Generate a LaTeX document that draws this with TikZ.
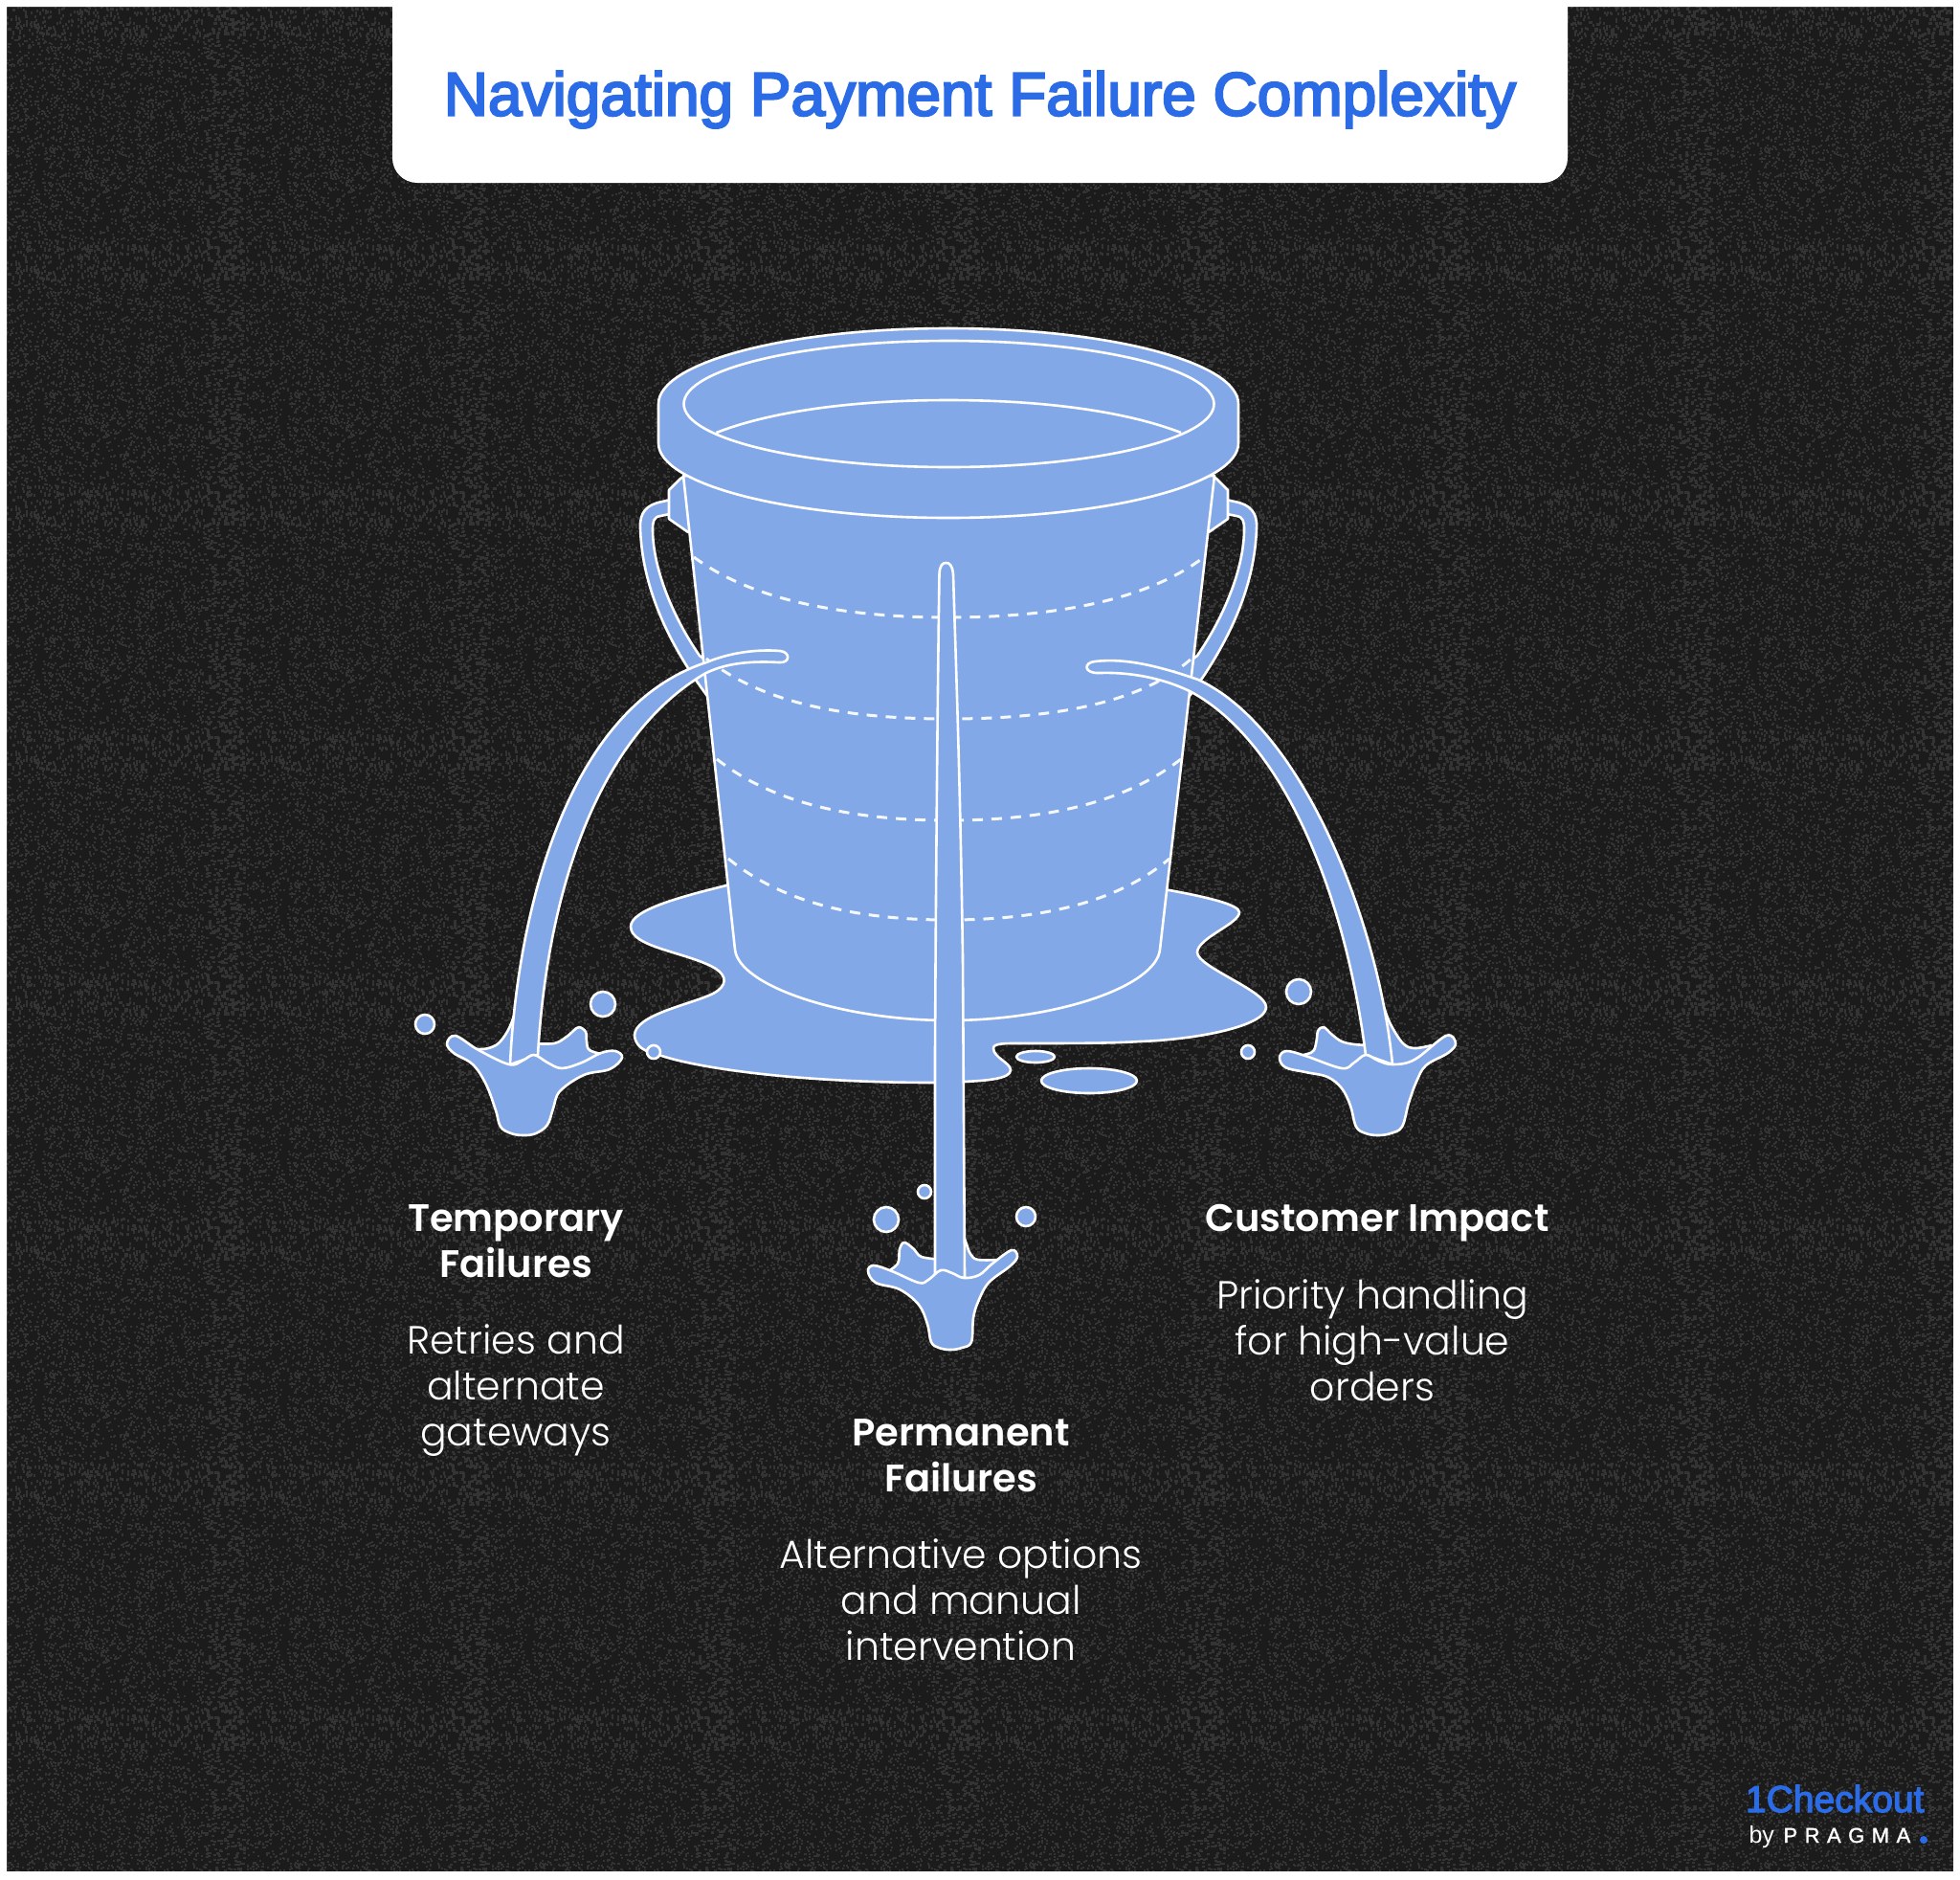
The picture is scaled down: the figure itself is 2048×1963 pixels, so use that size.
\documentclass[tikz,border=0pt]{standalone}
\usepackage{fontspec}
\setmainfont{Poppins Light}
\newfontfamily\headfont{Poppins SemiBold}
\newfontfamily\titlefont[FakeBold=3.6]{Liberation Sans}
\newfontfamily\logofont[FakeBold=3.2]{Liberation Sans}
\newfontfamily\brandfont[FakeBold=1.5]{Liberation Sans}
\newfontfamily\plainfont{Liberation Sans}
\definecolor{bgdark}{HTML}{1B1B1B}
\definecolor{water}{HTML}{82A8E8}
\definecolor{brand}{HTML}{2B6CE6}
\pgfmathsetseed{4242}
\newcount\speckn
\newcommand\speckdefs{%
  \special{pdf:bxobj @tile bbox 0 0 256 256}%
  \special{pdf:code q 1 0 0 1 -72 72 cm 0.205 g}%
  \speckn=0
  \loop\ifnum\speckn<3800
    \advance\speckn by 1
    \pgfmathrandominteger{\ax}{0}{253}%
    \pgfmathrandominteger{\ay}{0}{253}%
    \special{pdf:code \ax\space\ay\space 2.2 2.2 re f}%
  \repeat
  \special{pdf:code Q}%
  \special{pdf:exobj}%
}
\tikzset{
  liquid/.style={draw=white,fill=water,line width=2.6pt,line join=round},
  dashring/.style={draw=white!92!water,line width=3pt,dash pattern=on 11pt off 9pt},
  waterline/.style={draw=white,line width=2.6pt},
  heading/.style={text=white,align=center,font=\headfont\fontsize{40}{48}\selectfont},
  body/.style={text=white,align=center,font=\fontsize{41}{48}\selectfont},
  tile/.style={inner sep=0pt,outer sep=0pt,anchor=south west},
}
\begin{document}
\begin{tikzpicture}[x=1pt,y=-1pt]
\useasboundingbox (0,0) rectangle (2048,1963);
\fill[white] (0,0) rectangle (2048,1963);
\fill[bgdark] (7,7) rectangle (2041,1955);
\node[tile] (tiledef) at (0,0) {\speckdefs};
\begin{scope}
 \clip (7,7) rectangle (2041,1955);
 \foreach \tx in {0,256,512,768,1024,1280,1536,1792}
  \foreach \ty in {256,512,768,1024,1280,1536,1792,2048}
   \node[tile] (t\tx-\ty) at (\tx,\ty) {\special{pdf:uxobj @tile}};
\end{scope}
\fill[white,even odd rule] (-2,-2) rectangle (2050,1965) (7,7) rectangle (2041,1955);
% title panel
\fill[white] (410,0) -- (410,165) arc[start angle=180,end angle=90,radius=26] -- (1612,191) arc[start angle=90,end angle=0,radius=26] -- (1638,0) -- cycle;
\node[text=brand,font=\titlefont\fontsize{64}{70}\selectfont] (title) at (1024,104) {Navigating Payment Failure Complexity};
% puddle
\draw[liquid] (759,925) .. controls (715,936) and (659,950) .. (659,968)
 .. controls (659,990) and (720,995) .. (748,1012)
 .. controls (760,1020) and (760,1030) .. (745,1038)
 .. controls (720,1050) and (663,1060) .. (663,1082)
 .. controls (664,1092) and (672,1098) .. (683,1100)
 .. controls (720,1115) and (830,1131) .. (976,1131) -- (1007,1130)
 .. controls (1030,1129) and (1056,1127) .. (1056,1118)
 .. controls (1056,1110) and (1038,1105) .. (1038,1095)
 .. controls (1038,1090) and (1050,1090) .. (1060,1090)
 .. controls (1120,1090) and (1160,1090) .. (1191,1088)
 .. controls (1250,1086) and (1323,1072) .. (1323,1052)
 .. controls (1323,1035) and (1251,1010) .. (1251,995)
 .. controls (1251,980) and (1295,965) .. (1295,953)
 .. controls (1295,945) and (1260,937) .. (1222,930) -- (1000,900) -- cycle;
% handles and lugs
\foreach \sx/\ox in {1/0,-1/1982}{
 \begin{scope}[shift={(\ox,0)},xscale=\sx]
  \draw[liquid] (705,521) -- (692,524) .. controls (676,527) and (668,535) .. (669,552) .. controls (671,610) and (695,670) .. (745,735) -- (745,695) -- (731,685) .. controls (700,640) and (682,590) .. (682,553) .. controls (682,545) and (683,540) .. (690,539) -- (705,536) -- cycle;
  \draw[liquid] (716,497) -- (711,500) -- (699,512) -- (699,542) -- (719,556) -- (740,520) -- cycle;
 \end{scope}
}
% bucket body
\draw[liquid] (714,497) -- (768,992) .. controls (772,1030) and (880,1066) .. (991,1066) .. controls (1105,1066) and (1208,1030) .. (1212,992) -- (1269,497) -- cycle;
% dashed rings
\draw[dashring] (725,582) .. controls (790,630) and (890,645) .. (991,645) .. controls (1092,645) and (1195,630) .. (1258,582);
\draw[dashring] (738,688) .. controls (800,737) and (890,751) .. (991,751) .. controls (1092,751) and (1190,737) .. (1245,688);
\draw[dashring] (749,793) .. controls (810,841) and (895,857) .. (991,857) .. controls (1087,857) and (1172,841) .. (1234,793);
\draw[dashring] (761,897) .. controls (820,945) and (900,961) .. (991,961) .. controls (1082,961) and (1165,945) .. (1222,897);
% rim
\draw[liquid] (688,422) arc[start angle=180,end angle=360,x radius=303,y radius=79] -- (1294,463) arc[start angle=0,end angle=180,x radius=303,y radius=78] -- cycle;
\draw[waterline] (991.5,422) ellipse[x radius=277,y radius=66];
\draw[waterline] (748.5,452) .. controls (810,428) and (900,418) .. (991,418) .. controls (1082,418) and (1172,428) .. (1234,452);
% back of splashes
\draw[liquid] plot[smooth,tension=.6] coordinates {(538,1058) (533,1072) (526,1084) (518,1092) (505,1096) (490,1095)} -- (505,1120) -- (545,1125) -- (542,1100) -- cycle;
\draw[liquid] plot[smooth,tension=.6] coordinates {(555,1090) (579,1090) (592,1083) (599,1077) (605,1073) (612,1078) (613,1088) (616,1097) (632,1102)} -- (600,1125) -- (560,1125) -- cycle;
\draw[liquid] plot[smooth,tension=.6] coordinates {(1352,1104) (1366,1101) (1373,1097) (1376,1085) (1377,1077) (1383,1073) (1392,1081) (1402,1088) (1415,1091) (1430,1092)} -- (1420,1125) -- (1395,1128) -- (1370,1115) -- cycle;
\draw[liquid] plot[smooth,tension=.6] coordinates {(1446,1052) (1453,1070) (1466,1090) (1478,1095) (1496,1092)} -- (1480,1120) -- (1450,1120) -- (1443,1090) -- cycle;
\draw[liquid] plot[smooth,tension=.6] coordinates {(925,1330) (938,1320) (940,1305) (945,1298) (955,1305) (963,1313) (985,1316)} -- (985,1340) -- (950,1345) -- cycle;
\draw[liquid] plot[smooth,tension=.6] coordinates {(1004,1283) (1009,1297) (1014,1310) (1022,1316) (1045,1316)} -- (1025,1340) -- (1003,1340) -- cycle;
% streams
\draw[liquid] (533,1112) .. controls (540,960) and (590,740) .. (738,692) .. controls (762,682) and (790,678) .. (815,680) .. controls (826,681) and (826,693) .. (814,692) .. controls (780,690) and (755,694) .. (736,704) .. controls (625,770) and (572,930) .. (562,1102) -- cycle;
\draw[liquid] (1455,1112) .. controls (1440,960) and (1360,760) .. (1252,710) .. controls (1200,692) and (1170,688) .. (1144,691) .. controls (1132,692) and (1132,704) .. (1149,703) .. controls (1180,702) and (1215,708) .. (1245,723) .. controls (1340,775) and (1405,930) .. (1427,1102) -- cycle;
\draw[liquid] (981.5,600) .. controls (982,590) and (985,588) .. (988.5,588) .. controls (992,588) and (995,590) .. (996,600) .. controls (999,700) and (1003,800) .. (1006,1000) -- (1008,1335) -- (977,1335) -- (977,1100) .. controls (978,900) and (980,700) .. (981.5,600) -- cycle;
% front of splashes
\draw[liquid] plot[smooth cycle,tension=.6] coordinates {
 (467,1090) (476,1082) (500,1097) (532,1112) (546,1108) (558,1102) (572,1110) (587,1116) (608,1110) (628,1100) (643,1098) (650,1105) (637,1117)
 (610,1123) (585,1140) (578,1158) (572,1175) (560,1184) (547,1186) (534,1184) (523,1177) (518,1160) (508,1133) (494,1112) (474,1100)};
\draw[liquid] plot[smooth cycle,tension=.6] coordinates {
 (1337,1105) (1344,1098) (1364,1103) (1402,1116) (1415,1110) (1427,1102) (1440,1108) (1455,1112) (1478,1107) (1511,1082) (1521,1090) (1513,1100) (1490,1113)
 (1480,1130) (1472,1152) (1465,1177) (1453,1184) (1440,1186) (1427,1184) (1417,1177) (1411,1155) (1402,1137) (1387,1125) (1364,1120) (1343,1115)};
\draw[liquid] plot[smooth cycle,tension=.6] coordinates {
 (907,1328) (913,1322) (932,1328) (960,1340) (970,1337) (983,1327) (995,1330) (1007,1335) (1023,1332) (1037,1320) (1057,1306) (1063,1313) (1055,1323)
 (1033,1340) (1022,1360) (1017,1377) (1015,1402) (1005,1408) (993,1410) (981,1408) (973,1402) (969,1383) (960,1363) (940,1347) (915,1340)};
% droplets
\foreach \dx/\dy/\drx/\dry in {444/1070/10/10,630/1049/13/13,683/1099/7/7,1357/1036/13/13,1304/1099/7/7,1082/1104/20/6,1138/1129/50/13,926/1274/13/13,966/1245/7/7,1072/1271/10/10}
 \draw[liquid] (\dx,\dy) ellipse[x radius=\drx,y radius=\dry];
% labels
\node[heading] (h1) at (539,1297) {Temporary\\Failures};
\node[body] (b1) at (539,1453) {Retries and\\alternate\\gateways};
\node[heading] (h2) at (1004,1521) {Permanent\\Failures};
\node[body] (b2) at (1004,1671) {Alternative options\\and manual\\intervention};
\node[heading] (h3) at (1439,1278) {Customer Impact};
\node[body] (b3) at (1434,1400) {Priority handling\\for high-value\\orders};
% logo
\node[text=brand,font=\logofont\fontsize{39}{39}\selectfont,anchor=base east] (logo) at (2014,1893) {1Checkout};
\node[text=white,font=\plainfont\fontsize{25}{25}\selectfont,anchor=base west] (by) at (1824,1925) {by};
\node[text=white,font=\brandfont\addfontfeature{LetterSpace=34}\fontsize{22}{22}\selectfont,anchor=base west] (pragma) at (1860,1925) {PRAGMA};
\fill[brand] (2010,1922) circle[radius=4];
\end{tikzpicture}
\end{document}
